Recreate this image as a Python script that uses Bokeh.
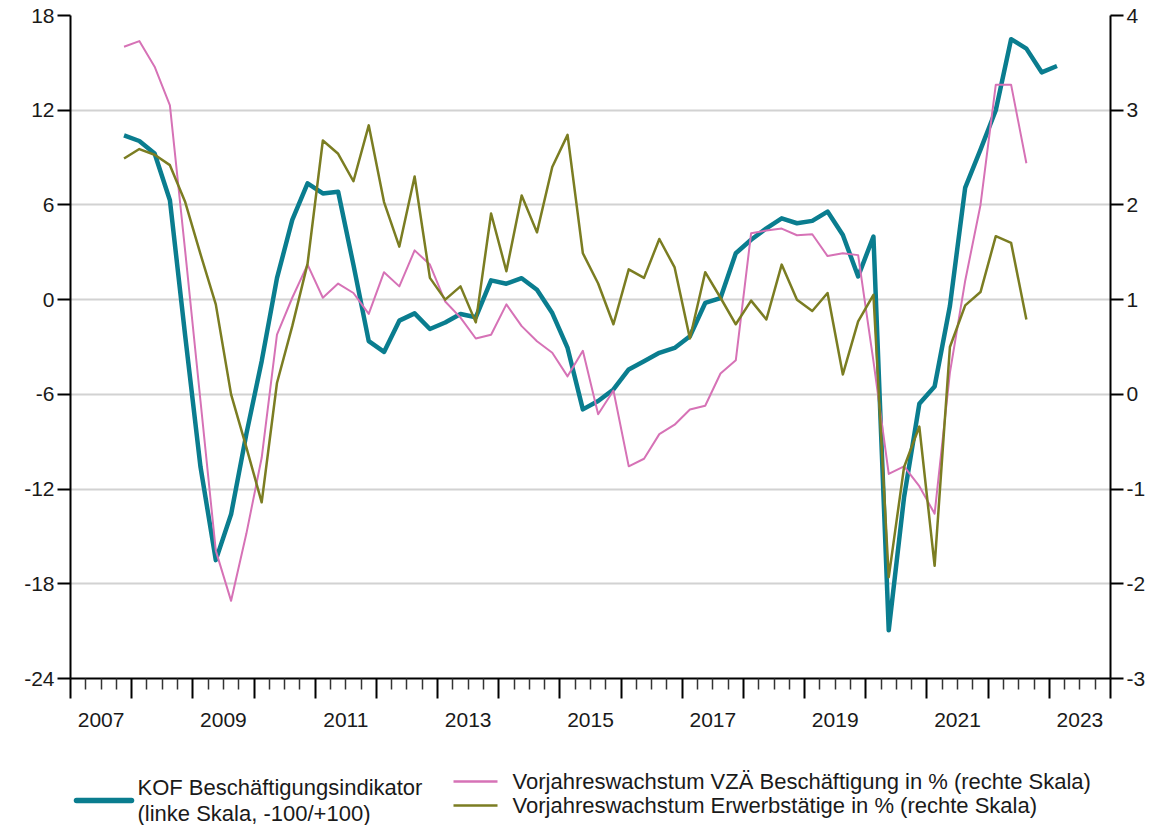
from bokeh.plotting import figure
from bokeh.models import Range1d, LinearAxis, FixedTicker
from bokeh.layouts import column
from bokeh.core.properties import value
from bokeh.embed import file_html
from bokeh.resources import INLINE

# Quarterly series, first observation 2007 Q4
start_year, start_quarter = 2007, 4

# KOF Beschäftigungsindikator (left scale)
kof = [10.4, 10.05, 9.26, 6.3, -2.3, -10.6, -16.5, -13.6, -8.5, -3.9,
       1.36, 5.05, 7.37, 6.73, 6.84, 2.2, -2.63, -3.31, -1.33, -0.87,
       -1.86, -1.45, -0.91, -1.12, 1.22, 1.01, 1.36, 0.63, -0.85, -3.06,
       -6.95, -6.42, -5.69, -4.42, -3.9, -3.37, -3.06, -2.32, -0.21, 0.1,
       2.94, 3.79, 4.52, 5.15, 4.84, 4.99, 5.58, 4.1, 1.47, 4.0,
       -20.95, -12.53, -6.6, -5.5, -0.4, 7.1, 9.5, 12.0, 16.5, 15.9,
       14.4, 14.8]

# Vorjahreswachstum VZÄ Beschäftigung in % (right scale)
vza = [3.67, 3.73, 3.46, 3.05, 1.51, -0.07, -1.65, -2.18, -1.47, -0.67,
       0.63, 1.02, 1.37, 1.02, 1.17, 1.07, 0.85, 1.29, 1.14, 1.52,
       1.37, 0.98, 0.81, 0.59, 0.63, 0.95, 0.72, 0.56, 0.44, 0.19,
       0.46, -0.21, 0.04, -0.76, -0.68, -0.42, -0.32, -0.16, -0.12, 0.22,
       0.36, 1.70, 1.73, 1.75, 1.68, 1.69, 1.46, 1.49, 1.47, 0.35,
       -0.84, -0.76, -0.97, -1.26, 0.23, 1.2, 2.0, 3.27, 3.27, 2.44]

# Vorjahreswachstum Erwerbstätige in % (right scale)
erw = [2.49, 2.59, 2.53, 2.42, 2.03, 1.48, 0.95, 0.0, -0.56, -1.14,
       0.12, 0.72, 1.38, 2.68, 2.54, 2.25, 2.84, 2.03, 1.56, 2.30,
       1.23, 1.0, 1.14, 0.76, 1.91, 1.30, 2.10, 1.71, 2.40, 2.74,
       1.49, 1.17, 0.74, 1.32, 1.23, 1.64, 1.34, 0.59, 1.29, 1.02,
       0.74, 0.99, 0.79, 1.37, 1.0, 0.88, 1.07, 0.21, 0.77, 1.05,
       -1.93, -0.77, -0.34, -1.81, 0.5, 0.94, 1.08, 1.67, 1.60, 0.79]

left_ticks = [-24, -18, -12, -6, 0, 6, 12, 18]
right_ticks = [-3, -2, -1, 0, 1, 2, 3, 4]
year_labels = ["2007", "2009", "2011", "2013", "2015", "2017", "2019", "2021", "2023"]

legend_labels = ["KOF Beschäftigungsindikator", "(linke Skala, -100/+100)",
                 "Vorjahreswachstum VZÄ Beschäftigung in % (rechte Skala)",
                 "Vorjahreswachstum Erwerbstätige in % (rechte Skala)"]

TEAL = "#0a7d8f"
PINK = "#d672b6"
OLIVE = "#7b7d22"
FONT = "Liberation Sans"
TXT = "#1a1a1a"
TICK_FS = "21px"


def quarter_positions(n):
    xs = []
    y, q = start_year, start_quarter
    for _ in range(n):
        xs.append(y + (q - 1) / 4 + 0.125)
        q += 1
        if q > 4:
            q = 1
            y += 1
    return xs


def hyphen_labels(ticks):
    return {t: str(t) for t in ticks}


W = 1155
FRAME_L, FRAME_R = 70, 1110
p = figure(width=W, height=753, x_range=Range1d(2007, 2024),
           y_range=Range1d(-24, 18), output_backend="svg",
           toolbar_location=None, min_border_left=FRAME_L,
           min_border_right=W - FRAME_R, min_border_top=15,
           min_border_bottom=75)
p.outline_line_color = None
p.background_fill_color = "white"
p.extra_y_ranges = {"r": Range1d(-3, 4)}

# grid
p.xgrid.visible = False
p.ygrid.ticker = FixedTicker(ticks=left_ticks)
p.ygrid.grid_line_color = "#d2d2d2"
p.ygrid.grid_line_width = 2

# left axis
ya = p.yaxis[0]
ya.ticker = FixedTicker(ticks=left_ticks)
ya.major_label_overrides = hyphen_labels(left_ticks)
ya.major_tick_out = 13
ya.major_tick_in = 0
ya.minor_tick_line_color = None
ya.axis_line_width = 2
ya.major_tick_line_width = 2
ya.major_label_text_font = FONT
ya.major_label_text_font_size = TICK_FS
ya.major_label_text_color = TXT
ya.major_label_standoff = 3

# right axis
ra = LinearAxis(y_range_name="r", ticker=FixedTicker(ticks=right_ticks))
ra.major_label_overrides = hyphen_labels(right_ticks)
ra.major_tick_out = 13
ra.major_tick_in = 0
ra.minor_tick_line_color = None
ra.axis_line_width = 2
ra.major_tick_line_width = 2
ra.major_label_text_font = FONT
ra.major_label_text_font_size = TICK_FS
ra.major_label_text_color = TXT
ra.major_label_standoff = 3
p.add_layout(ra, "right")

# bottom axis with year / quarter ticks (no labels)
years = list(range(2007, 2025))
quarters = [y + k / 4 for y in range(2007, 2024) for k in (1, 2, 3)]
xa = p.xaxis[0]
xa.ticker = FixedTicker(ticks=years, minor_ticks=quarters)
xa.major_label_overrides = {y: "" for y in years}
xa.major_tick_out = 20
xa.major_tick_in = 0
xa.minor_tick_out = 11
xa.minor_tick_in = 0
xa.axis_line_width = 2
xa.major_tick_line_width = 2
xa.minor_tick_line_width = 1.5
xa.minor_tick_line_color = "#333333"
xa.major_label_text_font_size = "0px"
xa.major_label_standoff = 0

# label axis: year labels centred in the middle of the year
label_pos = [int(s) + 0.5 for s in year_labels]
la = LinearAxis(ticker=FixedTicker(ticks=label_pos))
la.major_label_overrides = {pos: s for pos, s in zip(label_pos, year_labels)}
la.axis_line_color = None
la.major_tick_line_color = None
la.minor_tick_line_color = None
la.major_label_text_font = FONT
la.major_label_text_font_size = TICK_FS
la.major_label_text_color = TXT
la.major_label_standoff = 8
p.add_layout(la, "below")

# series
p.line(quarter_positions(len(kof)), kof, line_color=TEAL, line_width=4.5,
       line_join="round")
p.line(quarter_positions(len(vza)), vza, line_color=PINK, line_width=2,
       line_join="round", y_range_name="r")
p.line(quarter_positions(len(erw)), erw, line_color=OLIVE, line_width=2.5,
       line_join="round", y_range_name="r")

# legend panel (coordinates in page pixels; frame is aligned with the chart)
lg = figure(width=W, height=72, x_range=Range1d(FRAME_L, FRAME_R),
            y_range=Range1d(825, 753), output_backend="svg",
            toolbar_location=None, min_border=0,
            min_border_left=FRAME_L, min_border_right=W - FRAME_R)
lg.axis.visible = False
lg.grid.visible = False
lg.outline_line_color = None

lg.line([76, 131], [800, 800], line_color=TEAL, line_width=5.5, line_cap="round")
lg.line([453, 497], [781, 781], line_color=PINK, line_width=2.5)
lg.line([453, 497], [805, 805], line_color=OLIVE, line_width=2.5)
lg.text(x=[137, 137, 512, 512], y=[787, 813, 781, 805], text=legend_labels,
        text_baseline="middle", text_align="left", text_font=value(FONT),
        text_font_size="22px", text_color=TXT)

layout = column(p, lg, spacing=0)

open("out.html", "w").write(file_html(layout, INLINE))
